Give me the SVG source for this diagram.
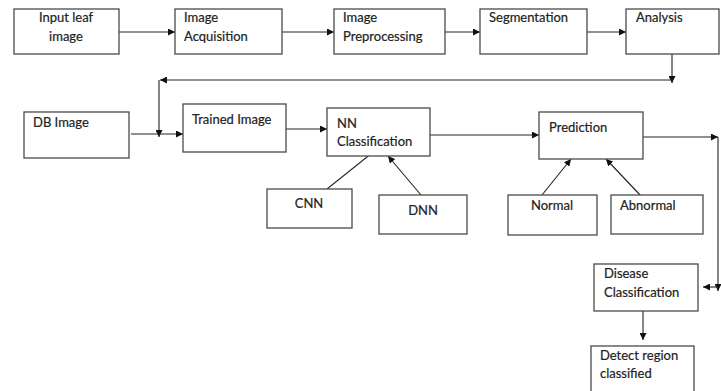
<svg xmlns="http://www.w3.org/2000/svg" width="721" height="391" viewBox="0 0 721 391">
<style>
.box{fill:#fff;stroke:#4a4a4a;stroke-width:1.3}
.t{font-family:Lato,"Open Sans",sans-serif;font-size:13px;fill:#222;stroke:#222;stroke-width:0.2}
.c{text-anchor:middle}
.ln{fill:none;stroke:#222;stroke-width:1.1}
</style>
<defs>
<marker id="ah" viewBox="0 0 10 10" refX="10" refY="5" markerWidth="7" markerHeight="7" markerUnits="userSpaceOnUse" orient="auto">
<path d="M0,0 L10,5 L0,10 z" fill="#111"/>
</marker>
</defs>
<rect width="721" height="391" fill="#fff"/>
<g id="connectors">
<line class="ln" x1="119" y1="32" x2="175" y2="32" marker-end="url(#ah)"/>
<line class="ln" x1="282" y1="32" x2="334" y2="32" marker-end="url(#ah)"/>
<line class="ln" x1="445" y1="32" x2="480" y2="32" marker-end="url(#ah)"/>
<line class="ln" x1="587" y1="32" x2="626" y2="32" marker-end="url(#ah)"/>
<line class="ln" x1="672" y1="54" x2="672" y2="83" marker-end="url(#ah)"/>
<line class="ln" x1="672" y1="80" x2="160" y2="80" marker-end="url(#ah)"/>
<line class="ln" x1="159" y1="80" x2="159" y2="137" marker-end="url(#ah)"/>
<line class="ln" x1="131" y1="134" x2="183" y2="134" marker-end="url(#ah)"/>
<line class="ln" x1="286" y1="129" x2="327" y2="129" marker-end="url(#ah)"/>
<line class="ln" x1="327" y1="189" x2="377" y2="149" marker-end="url(#ah)"/>
<line class="ln" x1="421" y1="195" x2="388" y2="156" marker-end="url(#ah)"/>
<line class="ln" x1="430" y1="135" x2="539" y2="135" marker-end="url(#ah)"/>
<line class="ln" x1="542" y1="195" x2="571" y2="159" marker-end="url(#ah)"/>
<line class="ln" x1="641" y1="196" x2="606" y2="159" marker-end="url(#ah)"/>
<line class="ln" x1="643" y1="137" x2="718" y2="137" marker-end="url(#ah)"/>
<line class="ln" x1="718" y1="137" x2="718" y2="291" marker-end="url(#ah)"/>
<line class="ln" x1="718" y1="287" x2="703" y2="287" marker-end="url(#ah)"/>
<line class="ln" x1="643" y1="311" x2="643" y2="340" marker-end="url(#ah)"/>
</g>
<g id="input"><rect class="box" x="14" y="9" width="105" height="45"/><text class="t c" x="66" y="22">Input leaf</text><text class="t c" x="66" y="41">image</text></g>
<g id="acquisition"><rect class="box" x="175" y="9" width="107" height="45"/><text class="t" x="184" y="22">Image</text><text class="t" x="184" y="41">Acquisition</text></g>
<g id="preprocessing"><rect class="box" x="334" y="9" width="111" height="45"/><text class="t" x="343" y="22">Image</text><text class="t" x="343" y="41">Preprocessing</text></g>
<g id="segmentation"><rect class="box" x="480" y="9" width="107" height="45"/><text class="t" x="489" y="22">Segmentation</text></g>
<g id="analysis"><rect class="box" x="626" y="9" width="93" height="45"/><text class="t" x="636" y="22">Analysis</text></g>
<g id="db"><rect class="box" x="24" y="112" width="105" height="46"/><text class="t" x="33" y="127">DB Image</text></g>
<g id="trained"><rect class="box" x="183" y="104" width="103" height="48"/><text class="t" x="192" y="124">Trained Image</text></g>
<g id="nn"><rect class="box" x="327" y="108" width="103" height="48"/><text class="t" x="337" y="128">NN</text><text class="t" x="337" y="146">Classification</text></g>
<g id="cnn"><rect class="box" x="267" y="189" width="85" height="39"/><text class="t c" x="309" y="208">CNN</text></g>
<g id="dnn"><rect class="box" x="379" y="195" width="88" height="39"/><text class="t c" x="423" y="215">DNN</text></g>
<g id="prediction"><rect class="box" x="539" y="112" width="104" height="47"/><text class="t" x="549" y="132">Prediction</text></g>
<g id="normal"><rect class="box" x="508" y="195" width="89" height="40"/><text class="t" x="531" y="210">Normal</text></g>
<g id="abnormal"><rect class="box" x="611" y="195" width="92" height="39"/><text class="t" x="620" y="210">Abnormal</text></g>
<g id="disease"><rect class="box" x="594" y="264" width="104" height="47"/><text class="t" x="604" y="278">Disease</text><text class="t" x="604" y="297">Classification</text></g>
<g id="detect"><rect class="box" x="591" y="346" width="103" height="50"/><text class="t" x="600" y="360">Detect region</text><text class="t" x="600" y="378">classified</text></g>
</svg>
